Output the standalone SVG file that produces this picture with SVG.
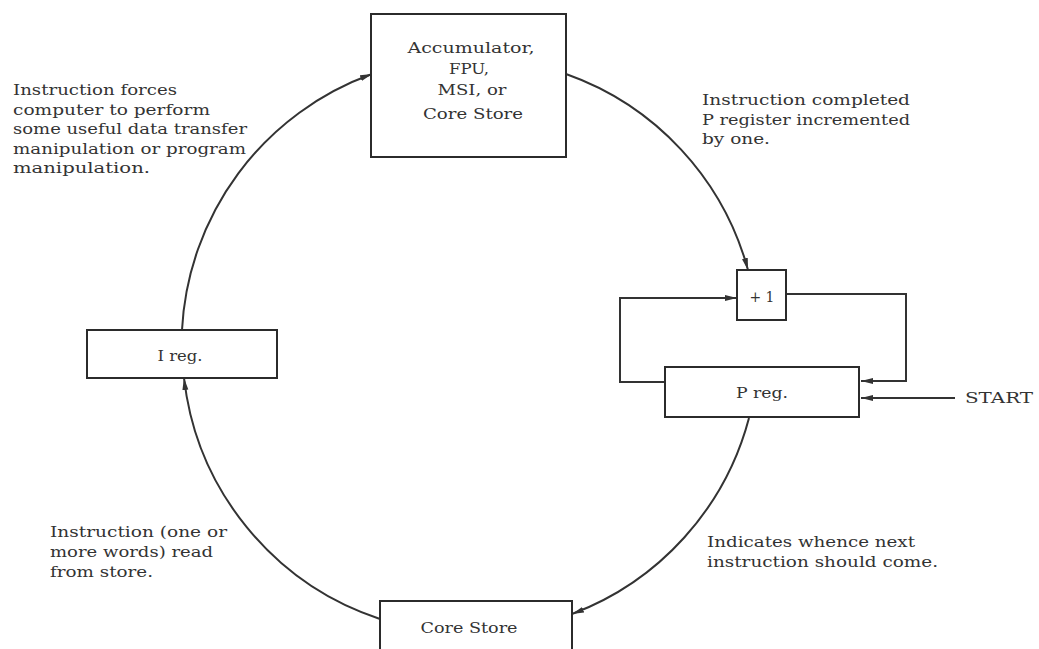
<svg xmlns="http://www.w3.org/2000/svg" width="1039" height="649" viewBox="0 0 1039 649">
<style>
  .box { fill: #ffffff; stroke: #2b2b2b; stroke-width: 2; }
  .wire { fill: none; stroke: #333333; stroke-width: 2; }
  .arrowed { marker-end: url(#arrow); }
  text { font-family: "DejaVu Serif", "Liberation Serif", serif; font-size: 14px; fill: #333333; }
  .c { text-anchor: middle; }
  .big { font-size: 15px; }
</style>
<defs>
  <marker id="arrow" markerUnits="userSpaceOnUse" markerWidth="13" markerHeight="7" refX="12" refY="3.5" orient="auto">
    <path d="M0,0.5 L12,3.5 L0,6.5 z" fill="#333333"/>
  </marker>
</defs>
<rect width="1039" height="649" fill="#ffffff"/>

<g id="connectors">
  <path class="wire arrowed" d="M566,74 A288,288 0 0 1 748,270"/>
  <path class="wire arrowed" d="M749,418 A288,288 0 0 1 572,614"/>
  <path class="wire arrowed" d="M380,619 A288,288 0 0 1 184,378"/>
  <path class="wire arrowed" d="M182,330 A288,288 0 0 1 372,74"/>
  <polyline class="wire arrowed" points="665,382 620,382 620,298 737,298"/>
  <polyline class="wire arrowed" points="786,294 906,294 906,381 861,381"/>
  <line class="wire arrowed" x1="955" y1="398" x2="861" y2="398"/>
</g>

<g id="node-acc">
  <rect class="box" x="371" y="14" width="195" height="143"/>
  <text class="c big" x="471" y="53" textLength="127" lengthAdjust="spacingAndGlyphs">Accumulator,</text>
  <text class="c big" x="469" y="74" textLength="40" lengthAdjust="spacingAndGlyphs">FPU,</text>
  <text class="c big" x="472" y="95" textLength="69" lengthAdjust="spacingAndGlyphs">MSI, or</text>
  <text class="c big" x="473" y="119" textLength="100" lengthAdjust="spacingAndGlyphs">Core Store</text>
</g>

<g id="node-plus1">
  <rect class="box" x="737" y="270" width="49" height="50"/>
  <text class="c" x="762" y="302" textLength="25" lengthAdjust="spacingAndGlyphs">+ 1</text>
</g>

<g id="node-preg">
  <rect class="box" x="665" y="367" width="194" height="50"/>
  <text class="c" x="762" y="398" textLength="52" lengthAdjust="spacingAndGlyphs">P reg.</text>
</g>

<g id="node-ireg">
  <rect class="box" x="87" y="330" width="190" height="48"/>
  <text class="c" x="180" y="361" textLength="45" lengthAdjust="spacingAndGlyphs">I reg.</text>
</g>

<g id="node-core">
  <rect class="box" x="380" y="601" width="192" height="56"/>
  <text class="c" x="469" y="633" textLength="97" lengthAdjust="spacingAndGlyphs">Core Store</text>
</g>

<g id="node-start">
  <text x="965" y="403" textLength="68" lengthAdjust="spacingAndGlyphs">START</text>
</g>

<g id="labels">
  <text x="13" y="95" textLength="164" lengthAdjust="spacingAndGlyphs">Instruction forces</text>
  <text x="13" y="114.5" textLength="197" lengthAdjust="spacingAndGlyphs">computer to perform</text>
  <text x="13" y="134" textLength="234" lengthAdjust="spacingAndGlyphs">some useful data transfer</text>
  <text x="13" y="153.5" textLength="233" lengthAdjust="spacingAndGlyphs">manipulation or program</text>
  <text x="13" y="173" textLength="137" lengthAdjust="spacingAndGlyphs">manipulation.</text>

  <text x="702" y="105" textLength="208" lengthAdjust="spacingAndGlyphs">Instruction completed</text>
  <text x="702" y="124.5" textLength="208" lengthAdjust="spacingAndGlyphs">P register incremented</text>
  <text x="702" y="144" textLength="68" lengthAdjust="spacingAndGlyphs">by one.</text>

  <text x="707" y="547" textLength="208" lengthAdjust="spacingAndGlyphs">Indicates whence next</text>
  <text x="707" y="567" textLength="231" lengthAdjust="spacingAndGlyphs">instruction should come.</text>

  <text x="50" y="537" textLength="177" lengthAdjust="spacingAndGlyphs">Instruction (one or</text>
  <text x="50" y="557" textLength="163" lengthAdjust="spacingAndGlyphs">more words) read</text>
  <text x="50" y="577" textLength="103" lengthAdjust="spacingAndGlyphs">from store.</text>
</g>
</svg>
